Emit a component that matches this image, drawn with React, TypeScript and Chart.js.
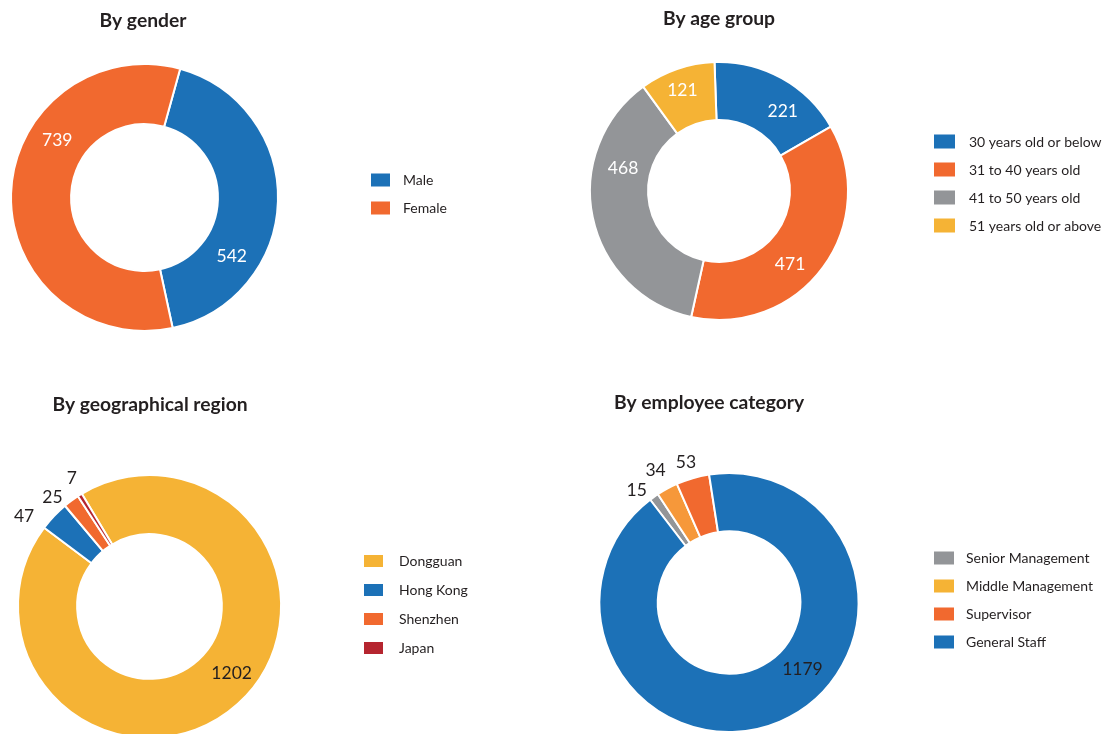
import React, { useEffect, useRef } from "react";
import { Chart, registerables } from "chart.js";

Chart.register(...registerables);

// ---------- colours ----------
const BLUE = "#1c71b7";
const ORANGE = "#f1692f";
const GRAY = "#939598";
const YELLOW = "#f5b335";
const AMBER = "#f6983a";
const RED = "#b5252f";
const TEXT = "#231f20";

// ---------- data ----------
const genderLabels = ["Male", "Female"];
const genderValues = [542, 739];
const genderColors = [BLUE, ORANGE];

const ageLabels = ["30 years old or below", "31 to 40 years old", "41 to 50 years old", "51 years old or above"];
const ageValues = [221, 471, 468, 121];
const ageColors = [BLUE, ORANGE, GRAY, YELLOW];

const regionLabels = ["Dongguan", "Hong Kong", "Shenzhen", "Japan"];
const regionValues = [1202, 47, 25, 7];
const regionColors = [YELLOW, BLUE, ORANGE, RED];

const categoryLabels = ["Senior Management", "Middle Management", "Supervisor", "General Staff"];
const categoryValues = [15, 34, 53, 1179];
const categoryColors = [GRAY, AMBER, ORANGE, BLUE];
const categoryLegendColors = [GRAY, YELLOW, ORANGE, BLUE];

// ---------- layout / style (not data) ----------
interface Panel {
  title: string;
  labels: string[];
  values: number[];
  colors: string[];
  legendColors: string[];
  left: number; top: number; width: number; height: number;
  cx: number; cy: number; r: number;
  rotation: number;
  titleX: number; titleY: number;
  boxX: number; textX: number; legendY0: number; legendStep: number; boxW: number; boxH: number;
  labelColor: string;
  labelShift: number[];
  labelRatio: number[];
}

const panels: Panel[] = [
  {
    title: "By gender", labels: genderLabels, values: genderValues, colors: genderColors, legendColors: genderColors,
    left: 0, top: 0, width: 552, height: 367,
    cx: 144.5, cy: 197.5, r: 133.5, rotation: 15.5,
    titleX: 143, titleY: 21,
    boxX: 371, textX: 403, legendY0: 180, legendStep: 28, boxW: 19, boxH: 13,
    labelColor: "#ffffff", labelShift: [32.5, 31.4], labelRatio: [0.79, 0.78],
  },
  {
    title: "By age group", labels: ageLabels, values: ageValues, colors: ageColors, legendColors: ageColors,
    left: 552, top: 0, width: 552, height: 367,
    cx: 719, cy: 191, r: 129, rotation: -2,
    titleX: 719, titleY: 19,
    boxX: 934, textX: 969, legendY0: 141.5, legendStep: 28, boxW: 21, boxH: 14,
    labelColor: "#ffffff", labelShift: [9.7, 9.5, 25.3, -1], labelRatio: [0.79, 0.79, 0.765, 0.83],
  },
  {
    title: "By geographical region", labels: regionLabels, values: regionValues, colors: regionColors, legendColors: regionColors,
    left: 0, top: 367, width: 552, height: 400,
    cx: 149.5, cy: 606.5, r: 131.5, rotation: -31,
    titleX: 150, titleY: 405,
    boxX: 364, textX: 399, legendY0: 561, legendStep: 29, boxW: 19, boxH: 12,
    labelColor: TEXT, labelShift: [-8.8, -7.6, -5.2, 0.8], labelRatio: [0.805, 1.176, 1.11, 1.14],
  },
  {
    title: "By employee category", labels: categoryLabels, values: categoryValues, colors: categoryColors, legendColors: categoryLegendColors,
    left: 552, top: 367, width: 552, height: 400,
    cx: 729, cy: 602.5, r: 129.5, rotation: -37.5,
    titleX: 709, titleY: 403,
    boxX: 934, textX: 966, legendY0: 558, legendStep: 28, boxW: 20, boxH: 13,
    labelColor: TEXT, labelShift: [-4.1, -0.6, -0.85, -24.6], labelRatio: [1.12, 1.165, 1.13, 0.766],
  },
];

function makeDecor(p: Panel) {
  return {
    id: "panelDecor",
    afterDraw(chart: any) {
      const ctx: CanvasRenderingContext2D = chart.ctx;
      ctx.save();
      // title
      ctx.fillStyle = TEXT;
      ctx.textAlign = "center";
      ctx.textBaseline = "middle";
      ctx.font = "bold 19.3px Lato";
      ctx.fillText(p.title, p.titleX - p.left, p.titleY - p.top);
      // legend
      ctx.textAlign = "left";
      ctx.font = "14px Lato";
      const labels: string[] = chart.data.labels;
      labels.forEach((lab, i) => {
        const y = p.legendY0 + i * p.legendStep - p.top;
        ctx.fillStyle = p.legendColors[i];
        ctx.fillRect(p.boxX - p.left, y - p.boxH / 2, p.boxW, p.boxH);
        ctx.fillStyle = TEXT;
        ctx.fillText(lab, p.textX - p.left, y + 0.5);
      });
      // value labels
      const meta = chart.getDatasetMeta(0);
      const vals: number[] = chart.data.datasets[0].data;
      ctx.textAlign = "center";
      ctx.font = "17.5px Lato";
      ctx.fillStyle = p.labelColor;
      meta.data.forEach((arc: any, i: number) => {
        const { startAngle, endAngle, outerRadius, x, y } = arc.getProps(
          ["startAngle", "endAngle", "outerRadius", "x", "y"],
          true
        );
        const mid = (startAngle + endAngle) / 2 + (p.labelShift[i] * Math.PI) / 180;
        const rr = outerRadius * p.labelRatio[i];
        ctx.fillText(String(vals[i]), x + Math.cos(mid) * rr, y + Math.sin(mid) * rr);
      });
      ctx.restore();
    },
  };
}

function DonutPanel({ p }: { p: Panel }) {
  const ref = useRef<HTMLCanvasElement | null>(null);
  useEffect(() => {
    if (!ref.current) return;
    const side = 2 * p.r + 2;
    const padLeft = p.cx - p.r - 1 - p.left;
    const padTop = p.cy - p.r - 1 - p.top;
    const chart = new Chart(ref.current, {
      type: "doughnut",
      data: {
        labels: p.labels,
        datasets: [
          {
            data: p.values,
            backgroundColor: p.colors,
            borderColor: "#ffffff",
            borderWidth: 2,
            hoverOffset: 0,
            offset: 0,
          },
        ],
      },
      options: {
        responsive: false,
        animation: false,
        events: [],
        cutout: "55%",
        rotation: p.rotation,
        layout: {
          padding: {
            left: padLeft,
            top: padTop,
            right: p.width - padLeft - side,
            bottom: p.height - padTop - side,
          },
        },
        plugins: {
          legend: { display: false },
          title: { display: false },
          tooltip: { enabled: false },
        },
      },
      plugins: [makeDecor(p)],
    });
    return () => chart.destroy();
  }, [p]);
  return (
    <canvas
      ref={ref}
      width={p.width}
      height={p.height}
      style={{ position: "absolute", left: p.left, top: p.top, width: p.width, height: p.height }}
    />
  );
}

export default function App() {
  return (
    <div
      style={{
        position: "absolute",
        left: 0,
        top: 0,
        width: 1104,
        height: 734,
        overflow: "hidden",
        background: "#ffffff",
      }}
    >
      {panels.map((p) => (
        <DonutPanel key={p.title} p={p} />
      ))}
    </div>
  );
}
